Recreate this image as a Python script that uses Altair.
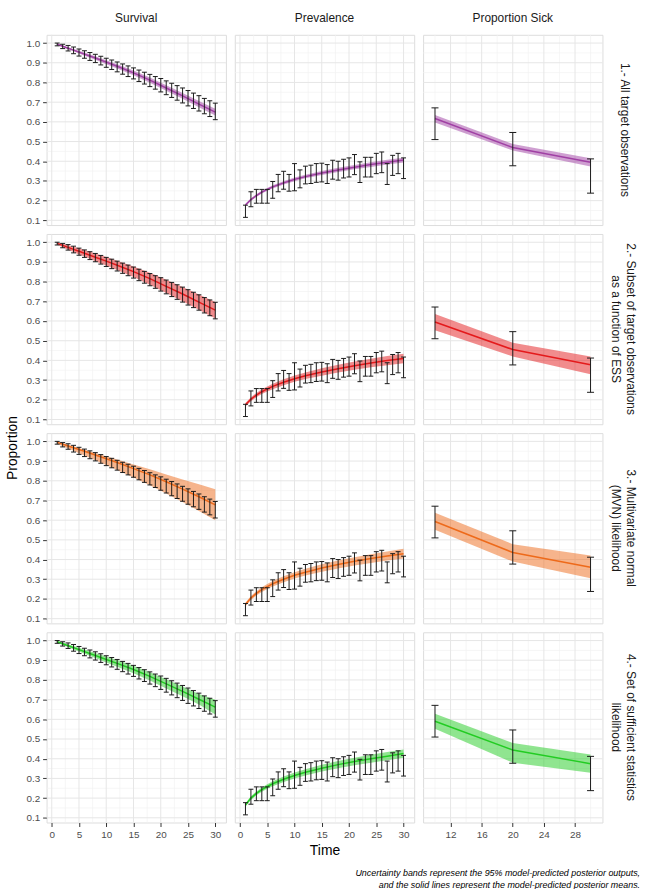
import altair as alt
import pandas as pd

FONT = "Liberation Sans"

# ---------------- observed target data ----------------
times = list(range(1, 31))
surv_obs_lo = [0.986, 0.972, 0.960, 0.946, 0.934, 0.923, 0.912, 0.901, 0.889, 0.877,
               0.866, 0.854, 0.842, 0.830, 0.818, 0.805, 0.792, 0.779, 0.766, 0.752,
               0.738, 0.724, 0.710, 0.696, 0.681, 0.668, 0.655, 0.641, 0.627, 0.611]
surv_obs_hi = [1.000, 0.994, 0.988, 0.980, 0.970, 0.961, 0.952, 0.943, 0.933, 0.923,
               0.914, 0.904, 0.894, 0.884, 0.874, 0.863, 0.852, 0.841, 0.830, 0.820,
               0.808, 0.796, 0.784, 0.772, 0.759, 0.746, 0.733, 0.719, 0.707, 0.695]
prev_obs_lo = [0.115, 0.169, 0.187, 0.187, 0.187, 0.212, 0.245, 0.258, 0.248, 0.250,
               0.265, 0.285, 0.287, 0.293, 0.295, 0.287, 0.309, 0.304, 0.315, 0.320,
               0.332, 0.292, 0.320, 0.320, 0.337, 0.342, 0.282, 0.328, 0.337, 0.312]
prev_obs_hi = [0.177, 0.245, 0.257, 0.257, 0.257, 0.297, 0.333, 0.349, 0.333, 0.388,
               0.356, 0.375, 0.380, 0.388, 0.390, 0.383, 0.405, 0.400, 0.410, 0.417,
               0.434, 0.397, 0.420, 0.420, 0.440, 0.447, 0.388, 0.430, 0.440, 0.417]
sick_times = [10, 20, 30]
sick_obs_lo = [0.510, 0.377, 0.238]
sick_obs_hi = [0.671, 0.546, 0.412]

# ---------------- model-predicted posteriors ----------------
model_times = [1, 2, 3, 4, 5, 6, 8, 10, 12, 15, 18, 21, 24, 27, 30]

# 1 - all target observations (purple)
surv_mean_1 = [0.994, 0.984, 0.974, 0.964, 0.954, 0.944, 0.924, 0.903, 0.882, 0.849, 0.812, 0.772, 0.732, 0.690, 0.649]
surv_lo_1 = [0.991, 0.980, 0.969, 0.958, 0.947, 0.936, 0.915, 0.893, 0.871, 0.837, 0.799, 0.758, 0.717, 0.674, 0.632]
surv_hi_1 = [0.997, 0.988, 0.979, 0.970, 0.961, 0.952, 0.933, 0.913, 0.893, 0.861, 0.825, 0.786, 0.747, 0.706, 0.666]
prev_mean_1 = [0.178, 0.205, 0.226, 0.243, 0.257, 0.270, 0.290, 0.308, 0.322, 0.340, 0.356, 0.370, 0.383, 0.395, 0.406]
prev_lo_1 = [0.172, 0.199, 0.219, 0.236, 0.250, 0.262, 0.282, 0.299, 0.313, 0.330, 0.345, 0.359, 0.371, 0.383, 0.394]
prev_hi_1 = [0.184, 0.211, 0.233, 0.250, 0.264, 0.278, 0.298, 0.317, 0.331, 0.350, 0.367, 0.381, 0.395, 0.407, 0.418]
sick_mean_1 = [0.617, 0.470, 0.395]
sick_lo_1 = [0.597, 0.455, 0.373]
sick_hi_1 = [0.635, 0.487, 0.415]

# 2 - subset of target observations (red)
surv_mean_2 = [0.994, 0.984, 0.974, 0.964, 0.954, 0.944, 0.924, 0.904, 0.883, 0.851, 0.815, 0.776, 0.737, 0.696, 0.655]
surv_lo_2 = [0.988, 0.975, 0.962, 0.950, 0.938, 0.927, 0.904, 0.882, 0.859, 0.823, 0.784, 0.742, 0.700, 0.657, 0.613]
surv_hi_2 = [0.999, 0.992, 0.985, 0.977, 0.969, 0.961, 0.943, 0.925, 0.906, 0.877, 0.845, 0.809, 0.773, 0.735, 0.697]
prev_mean_2 = [0.175, 0.203, 0.224, 0.241, 0.255, 0.268, 0.289, 0.307, 0.322, 0.341, 0.358, 0.373, 0.387, 0.399, 0.410]
prev_lo_2 = [0.166, 0.193, 0.213, 0.229, 0.242, 0.254, 0.274, 0.291, 0.305, 0.322, 0.338, 0.352, 0.365, 0.376, 0.386]
prev_hi_2 = [0.184, 0.213, 0.235, 0.253, 0.268, 0.282, 0.304, 0.323, 0.339, 0.360, 0.378, 0.394, 0.409, 0.422, 0.434]
sick_mean_2 = [0.595, 0.455, 0.378]
sick_lo_2 = [0.553, 0.420, 0.330]
sick_hi_2 = [0.636, 0.490, 0.420]

# 3 - multivariate normal likelihood (orange)
surv_mean_3 = [0.995, 0.986, 0.977, 0.968, 0.959, 0.950, 0.931, 0.912, 0.893, 0.862, 0.830, 0.795, 0.758, 0.719, 0.678]
surv_lo_3 = [0.988, 0.976, 0.964, 0.952, 0.940, 0.928, 0.904, 0.880, 0.855, 0.817, 0.777, 0.735, 0.692, 0.647, 0.600]
surv_hi_3 = [1.000, 0.992, 0.983, 0.975, 0.966, 0.958, 0.941, 0.924, 0.908, 0.883, 0.858, 0.832, 0.807, 0.782, 0.757]
prev_mean_3 = [0.172, 0.205, 0.228, 0.247, 0.263, 0.277, 0.300, 0.320, 0.336, 0.357, 0.375, 0.391, 0.405, 0.418, 0.430]
prev_lo_3 = [0.163, 0.195, 0.217, 0.235, 0.250, 0.263, 0.285, 0.304, 0.319, 0.338, 0.355, 0.370, 0.383, 0.395, 0.405]
prev_hi_3 = [0.181, 0.215, 0.239, 0.259, 0.276, 0.291, 0.315, 0.336, 0.353, 0.376, 0.395, 0.412, 0.427, 0.441, 0.455]
sick_mean_3 = [0.593, 0.436, 0.361]
sick_lo_3 = [0.551, 0.390, 0.305]
sick_hi_3 = [0.638, 0.478, 0.420]

# 4 - set of sufficient statistics likelihood (green)
surv_mean_4 = [0.994, 0.984, 0.974, 0.964, 0.954, 0.944, 0.924, 0.904, 0.884, 0.853, 0.818, 0.780, 0.742, 0.702, 0.662]
surv_lo_4 = [0.990, 0.978, 0.967, 0.955, 0.944, 0.933, 0.911, 0.889, 0.867, 0.834, 0.797, 0.757, 0.717, 0.675, 0.625]
surv_hi_4 = [0.998, 0.990, 0.981, 0.973, 0.964, 0.955, 0.937, 0.919, 0.901, 0.872, 0.839, 0.803, 0.767, 0.729, 0.700]
prev_mean_4 = [0.165, 0.200, 0.224, 0.243, 0.259, 0.273, 0.296, 0.315, 0.331, 0.352, 0.370, 0.386, 0.400, 0.413, 0.426]
prev_lo_4 = [0.157, 0.191, 0.214, 0.232, 0.247, 0.260, 0.282, 0.300, 0.315, 0.335, 0.352, 0.367, 0.380, 0.392, 0.405]
prev_hi_4 = [0.173, 0.209, 0.234, 0.254, 0.271, 0.286, 0.310, 0.330, 0.347, 0.369, 0.388, 0.405, 0.420, 0.434, 0.447]
sick_mean_4 = [0.590, 0.444, 0.375]
sick_lo_4 = [0.552, 0.380, 0.329]
sick_hi_4 = [0.629, 0.480, 0.422]

# ---------------- labels / styling ----------------
column_titles = ["Survival", "Prevalence", "Proportion Sick"]
row_labels = [
    ["1.- All target observations"],
    ["2.- Subset of target observations", "as a function of ESS"],
    ["3.- Multivariate normal", "(MVN) likelihood"],
    ["4.- Set of sufficient statistics", "likelihood"],
]
method_colors = ["#A040A4", "#E41A1C", "#EE6A1A", "#22CC22"]
caption_lines = [
    "Uncertainty bands represent the 95% model-predicted posterior outputs,",
    "and the solid lines represent the model-predicted posterior means.",
]

y_major = [0.1, 0.2, 0.3, 0.4, 0.5, 0.6, 0.7, 0.8, 0.9, 1.0]
y_minor = [0.15, 0.25, 0.35, 0.45, 0.55, 0.65, 0.75, 0.85, 0.95]
t_major = [0, 5, 10, 15, 20, 25, 30]
t_minor = [2.5, 7.5, 12.5, 17.5, 22.5, 27.5]
s_major = [12, 16, 20, 24, 28]
s_minor = [10, 14, 18, 22, 26, 30]

PW, PH = 181, 192
GAP = 7

model_sets = [
    (surv_mean_1, surv_lo_1, surv_hi_1, prev_mean_1, prev_lo_1, prev_hi_1, sick_mean_1, sick_lo_1, sick_hi_1),
    (surv_mean_2, surv_lo_2, surv_hi_2, prev_mean_2, prev_lo_2, prev_hi_2, sick_mean_2, sick_lo_2, sick_hi_2),
    (surv_mean_3, surv_lo_3, surv_hi_3, prev_mean_3, prev_lo_3, prev_hi_3, sick_mean_3, sick_lo_3, sick_hi_3),
    (surv_mean_4, surv_lo_4, surv_hi_4, prev_mean_4, prev_lo_4, prev_hi_4, sick_mean_4, sick_lo_4, sick_hi_4),
]


def panel(col, row, color, obs_x, obs_lo, obs_hi, mod_x, mod_mean, mod_lo, mod_hi):
    if col == 2:
        xdom, xmaj, xmin = [8.47, 31.53], s_major, s_minor
    else:
        xdom, xmaj, xmin = [-0.95, 31.95], t_major, t_minor
    xscale = alt.Scale(domain=xdom, nice=False, zero=False)
    yscale = alt.Scale(domain=[0.076, 1.042], nice=False, zero=False)

    if row == 3:
        xkw = dict(values=xmaj, format="d", grid=False, domain=False, tickSize=4,
                   tickColor="#333333", labelColor="#4D4D4D", labelFontSize=10,
                   labelFont=FONT, labelPadding=3, labelFlush=False, labelOverlap=False)
        if col == 1:
            xaxis = alt.Axis(title="Time", titleFont=FONT, titleFontSize=14,
                             titleFontWeight="normal", titleColor="#000000",
                             titlePadding=4, **xkw)
        else:
            xaxis = alt.Axis(title=None, **xkw)
    else:
        xaxis = None
    if col == 0:
        yaxis = alt.Axis(values=y_major, format=".1f", grid=False, domain=False, tickSize=4,
                         tickColor="#333333", labelColor="#4D4D4D", labelFontSize=10,
                         labelFont=FONT, labelPadding=3, title=None, labelFlush=False)
    else:
        yaxis = None

    def X(f):
        return alt.X(f + ":Q", scale=xscale, axis=xaxis)

    def Y(f):
        return alt.Y(f + ":Q", scale=yscale, axis=yaxis)

    vmin = alt.Chart(pd.DataFrame({"x": xmin})).mark_rule(color="#F2F2F2", strokeWidth=0.7).encode(x=X("x"))
    vmaj = alt.Chart(pd.DataFrame({"x": xmaj})).mark_rule(color="#E6E6E6", strokeWidth=1).encode(x=X("x"))
    hmin = alt.Chart(pd.DataFrame({"y": y_minor})).mark_rule(color="#F2F2F2", strokeWidth=0.7).encode(y=Y("y"))
    hmaj = alt.Chart(pd.DataFrame({"y": y_major})).mark_rule(color="#E6E6E6", strokeWidth=1).encode(y=Y("y"))

    mod = pd.DataFrame({"x": mod_x, "mean": mod_mean, "lo": mod_lo, "hi": mod_hi})
    band = alt.Chart(mod).mark_area(color=color, opacity=0.5).encode(x=X("x"), y=Y("lo"), y2="hi")
    line = alt.Chart(mod).mark_line(color=color, strokeWidth=1.5).encode(x=X("x"), y=Y("mean"))

    obs = pd.DataFrame({"x": obs_x, "lo": obs_lo, "hi": obs_hi})
    base = alt.Chart(obs).transform_calculate(xa="datum.x - 0.45", xb="datum.x + 0.45")
    err = base.mark_rule(color="#1A1A1A", strokeWidth=1).encode(x=X("x"), y=Y("lo"), y2="hi")
    cap_lo = base.mark_rule(color="#1A1A1A", strokeWidth=1).encode(x=X("xa"), x2="xb", y=Y("lo"))
    cap_hi = base.mark_rule(color="#1A1A1A", strokeWidth=1).encode(x=X("xa"), x2="xb", y=Y("hi"))

    ch = alt.layer(vmin, hmin, vmaj, hmaj, band, line, err, cap_lo, cap_hi).properties(width=PW, height=PH)
    if row == 0:
        ch = ch.properties(title=alt.TitleParams(column_titles[col], frame="group", fontSize=12,
                                                 font=FONT, fontWeight="normal", color="#1A1A1A",
                                                 offset=9))
    return ch


def strip(lines):
    df = pd.DataFrame({"t": ["\n".join(lines)]})
    return alt.Chart(df).mark_text(angle=90, lineBreak="\n", font=FONT, fontSize=12,
                                   color="#1A1A1A", align="center", baseline="middle",
                                   lineHeight=15).encode(
        text="t:N", x=alt.value(15), y=alt.value(PH / 2)
    ).properties(width=34, height=PH, view=alt.ViewBackground(strokeOpacity=0))


rows = []
for r in range(4):
    (sm, sl, sh, pm, pl, ph, km, kl, kh) = model_sets[r]
    c = method_colors[r]
    p1 = panel(0, r, c, times, surv_obs_lo, surv_obs_hi, model_times, sm, sl, sh)
    p2 = panel(1, r, c, times, prev_obs_lo, prev_obs_hi, model_times, pm, pl, ph)
    p3 = panel(2, r, c, sick_times, sick_obs_lo, sick_obs_hi, sick_times, km, kl, kh)
    rows.append(alt.hconcat(p1, p2, p3, strip(row_labels[r]), spacing=GAP))

grid = alt.vconcat(*rows, spacing=GAP)

ylab = alt.Chart(pd.DataFrame({"t": ["Proportion"]})).mark_text(
    angle=270, font=FONT, fontSize=14, color="#000000", align="center", baseline="middle"
).encode(text="t:N", x=alt.value(10), y=alt.value(417)).properties(
    width=16, height=800, view=alt.ViewBackground(strokeOpacity=0))

caption = alt.Chart(pd.DataFrame({"t": ["\n".join(caption_lines)]})).mark_text(
    font=FONT, fontSize=9, fontStyle="italic", color="#000000", align="right",
    baseline="top", lineBreak="\n", lineHeight=12
).encode(text="t:N", x=alt.value(643), y=alt.value(9)).properties(
    width=646, height=30, view=alt.ViewBackground(strokeOpacity=0))

chart = alt.vconcat(
    alt.hconcat(ylab, grid, spacing=5),
    caption,
    spacing=2,
).properties(
    padding={"left": 3, "top": 8, "right": 0, "bottom": 0}
).configure_view(stroke="#7F7F7F", strokeWidth=1).configure(background="white")

chart.save("out.html", embed_options={"renderer": "svg", "actions": False})
